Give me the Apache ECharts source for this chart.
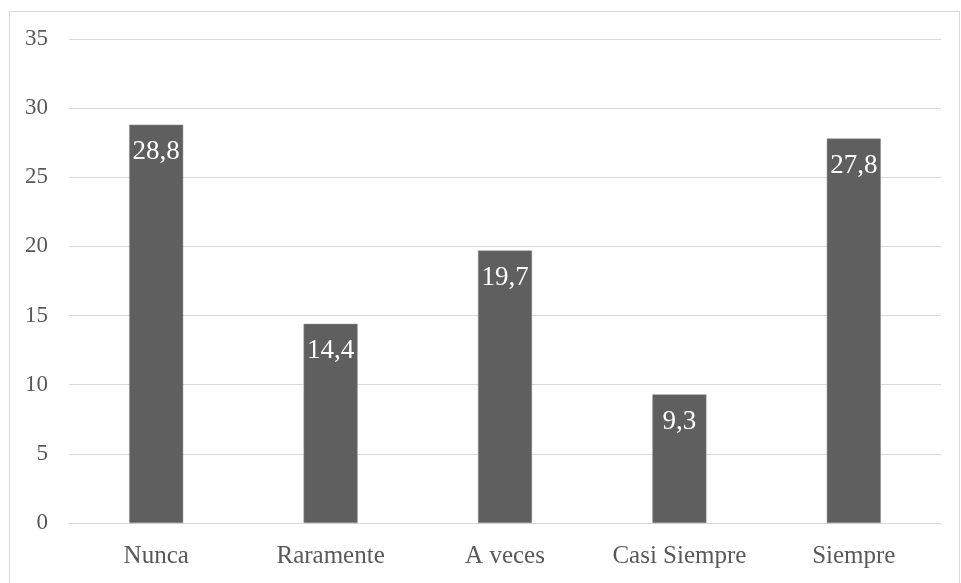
<!DOCTYPE html>
<html>
<head>
<meta charset="utf-8">
<script src="https://cdn.jsdelivr.net/npm/echarts@6/dist/echarts.min.js"></script>
<style>
html,body{margin:0;padding:0;background:#fff;}
#frame{position:absolute;left:9px;top:11px;width:951px;height:580px;border:1px solid #d9d9d9;box-sizing:border-box;}
#c{position:absolute;left:0;top:0;width:961px;height:583px;}
</style>
</head>
<body>
<div id="frame"></div>
<div id="c"></div>
<script>
var categories = ['Nunca', 'Raramente', 'A veces', 'Casi Siempre', 'Siempre'];
var values = [28.8, 14.4, 19.7, 9.3, 27.8];
var yTicks = { min: 0, max: 35, interval: 5 };

var chart = echarts.init(document.getElementById('c'), null, { renderer: 'canvas' });
var font = '"Liberation Serif", "Times New Roman", serif';
chart.setOption({
  backgroundColor: 'transparent',
  animation: false,
  grid: { left: 69, right: 20, top: 39, bottom: 60 },
  xAxis: {
    type: 'category',
    data: categories,
    axisLine: { show: true, lineStyle: { color: '#d9d9d9', width: 1 } },
    axisTick: { show: false },
    axisLabel: { color: '#595959', fontFamily: font, fontSize: 25, margin: 21 }
  },
  yAxis: {
    type: 'value',
    min: yTicks.min, max: yTicks.max, interval: yTicks.interval,
    axisLine: { show: false },
    axisTick: { show: false },
    splitLine: { lineStyle: { color: '#d9d9d9', width: 1 } },
    axisLabel: { color: '#595959', fontFamily: font, fontSize: 23, margin: 21 }
  },
  series: [{
    type: 'bar',
    data: values,
    barWidth: 54,
    itemStyle: { color: '#5f5f5f', borderColor: '#8a8a8a', borderWidth: 0.5 },
    label: {
      show: true,
      position: 'insideTop',
      distance: 14,
      color: '#ffffff',
      fontFamily: font,
      fontSize: 27,
      formatter: function (p) { return p.value.toFixed(1).replace('.', ','); }
    }
  }]
});
</script>
</body>
</html>
